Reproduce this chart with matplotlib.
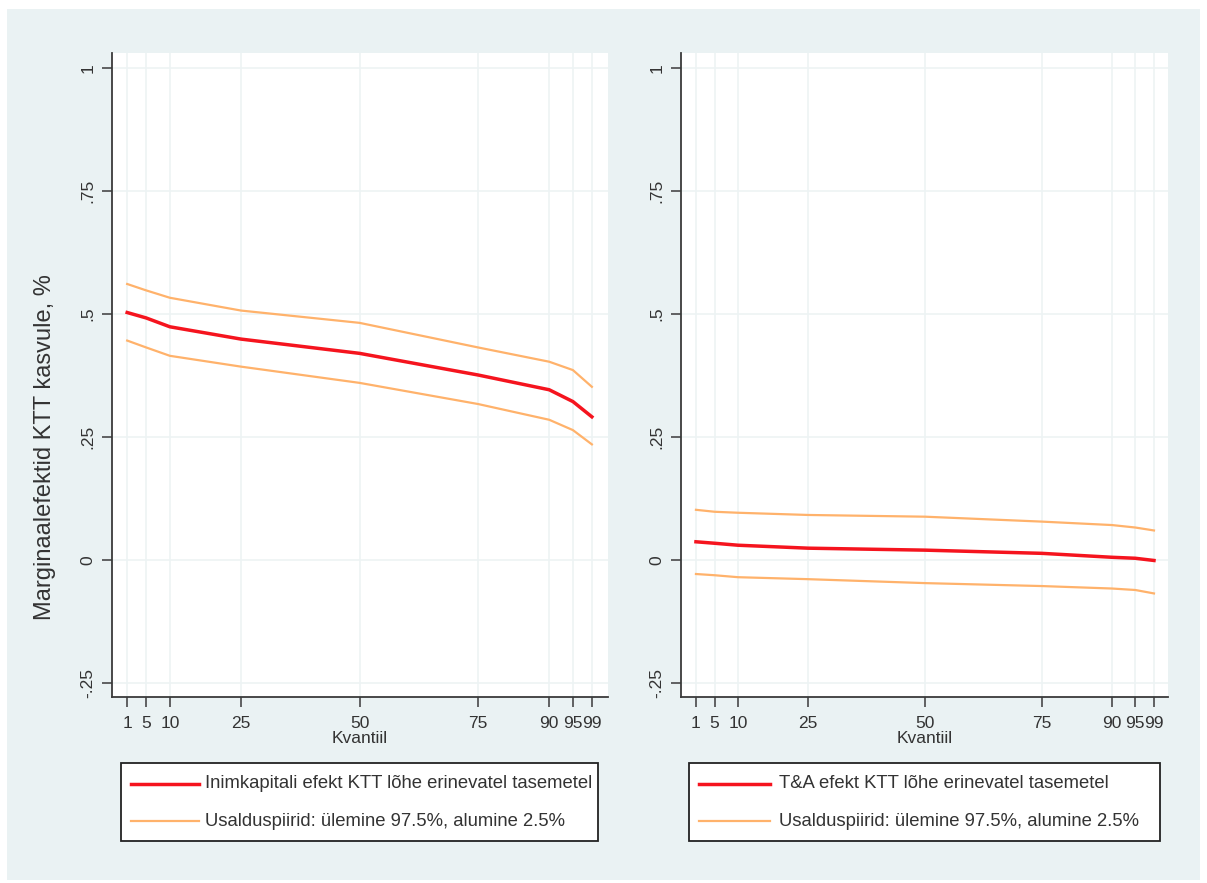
import matplotlib
matplotlib.use("Agg")
import matplotlib.pyplot as plt
from matplotlib.patches import Rectangle
from matplotlib.lines import Line2D

plt.rcParams['font.family'] = ['Liberation Sans', 'DejaVu Sans']

# ---- data ----
quantiles = [1, 5, 10, 25, 50, 75, 90, 95, 99]
x_ticks = [1, 5, 10, 25, 50, 75, 90, 95, 99]
y_ticks = [-0.25, 0, 0.25, 0.5, 0.75, 1]
y_tick_labels = ["-.25", "0", ".25", ".5", ".75", "1"]

hc_effect = [0.503, 0.492, 0.474, 0.449, 0.420, 0.376, 0.346, 0.322, 0.291]
hc_upper = [0.561, 0.548, 0.533, 0.507, 0.482, 0.432, 0.403, 0.386, 0.352]
hc_lower = [0.446, 0.432, 0.415, 0.393, 0.360, 0.317, 0.285, 0.264, 0.235]

rd_effect = [0.037, 0.034, 0.030, 0.024, 0.020, 0.0135, 0.0055, 0.0035, -0.001]
rd_upper = [0.102, 0.098, 0.096, 0.0915, 0.088, 0.078, 0.071, 0.066, 0.060]
rd_lower = [-0.0285, -0.031, -0.035, -0.039, -0.047, -0.053, -0.058, -0.061, -0.068]

label_effect_left = "Inimkapitali efekt KTT lõhe erinevatel tasemetel"
label_effect_right = "T&A efekt KTT lõhe erinevatel tasemetel"
label_ci = "Usalduspiirid: ülemine 97.5%, alumine 2.5%"
x_label = "Kvantiil"
y_label = "Marginaalefektid KTT kasvule, %"

# ---- style ----
W, H = 1207, 883
BG = "#eaf2f3"
RED = "#f5141e"
ORANGE = "#ffb26b"
GRID = "#edf3f4"
TXT = "#333333"

fig = plt.figure(figsize=(W / 100, H / 100), dpi=100, facecolor="white")
fig.patches.append(Rectangle((7 / W, 1 - 880 / H), (1200 - 7) / W, (880 - 9) / H,
                             transform=fig.transFigure, facecolor=BG, edgecolor="none", zorder=-5))

def fx(px):
    return px / W

def fy(py):
    return 1 - py / H

panels = [
    dict(left=112, right=608, xlim=(-2.2, 102.4), eff=hc_effect, up=hc_upper, lo=hc_lower,
         lab=label_effect_left, leg=(121, 598, 763, 841), hx=(131, 199), tx=205, ylab=True),
    dict(left=681, right=1168, xlim=(-2.2, 102.0), eff=rd_effect, up=rd_upper, lo=rd_lower,
         lab=label_effect_right, leg=(689, 1160, 763, 841), hx=(699, 770), tx=779, ylab=False),
]
top, bottom = 53, 697

for p in panels:
    ax = fig.add_axes([fx(p["left"]), fy(bottom), fx(p["right"] - p["left"]), (bottom - top) / H])
    ax.set_facecolor("white")
    ax.set_xlim(*p["xlim"])
    ax.set_ylim(-0.2785, 1.0305)
    for s in ["top", "right"]:
        ax.spines[s].set_visible(False)
    for s in ["left", "bottom"]:
        ax.spines[s].set_color("#3a3a3a")
        ax.spines[s].set_linewidth(1.3)
    ax.set_xticks(x_ticks)
    ax.set_xticklabels([str(v) for v in x_ticks])
    ax.set_yticks(y_ticks)
    ax.set_yticklabels(y_tick_labels, rotation=90, va="center")
    ax.tick_params(axis="both", direction="out", length=7, width=1.1, color="#3a3a3a",
                   labelsize=12.5, labelcolor=TXT)
    ax.tick_params(axis="x", pad=7)
    ax.tick_params(axis="y", pad=5)
    ax.grid(True, color=GRID, linewidth=1.2)
    ax.set_axisbelow(True)
    ax.plot(quantiles, p["up"], color=ORANGE, lw=1.6, zorder=3)
    ax.plot(quantiles, p["lo"], color=ORANGE, lw=1.6, zorder=3)
    ax.plot(quantiles, p["eff"], color=RED, lw=2.5, zorder=4)
    ax.set_xlabel(x_label, fontsize=12.5, color=TXT, labelpad=0)
    if p["ylab"]:
        fig.text(fx(45), fy(447), y_label, rotation=90, ha="center", va="center",
                 fontsize=17, color=TXT)

    # legend box
    l, r, t, b = p["leg"]
    fig.patches.append(Rectangle((fx(l), fy(b)), fx(r - l), (b - t) / H, transform=fig.transFigure,
                                 facecolor="white", edgecolor="#222222", linewidth=1.3, zorder=1))
    rows = [(784, RED, 2.5, p["lab"]), (821, ORANGE, 1.6, label_ci)]
    for yy, col, lw, txt in rows:
        fig.lines.append(Line2D([fx(p["hx"][0]), fx(p["hx"][1])], [fy(yy), fy(yy)],
                                transform=fig.transFigure, color=col, lw=lw, zorder=2))
        fig.text(fx(p["tx"]), fy(yy), txt, ha="left", va="center", fontsize=13.3, color=TXT)

fig.savefig("out.png", dpi=100, facecolor="white")
